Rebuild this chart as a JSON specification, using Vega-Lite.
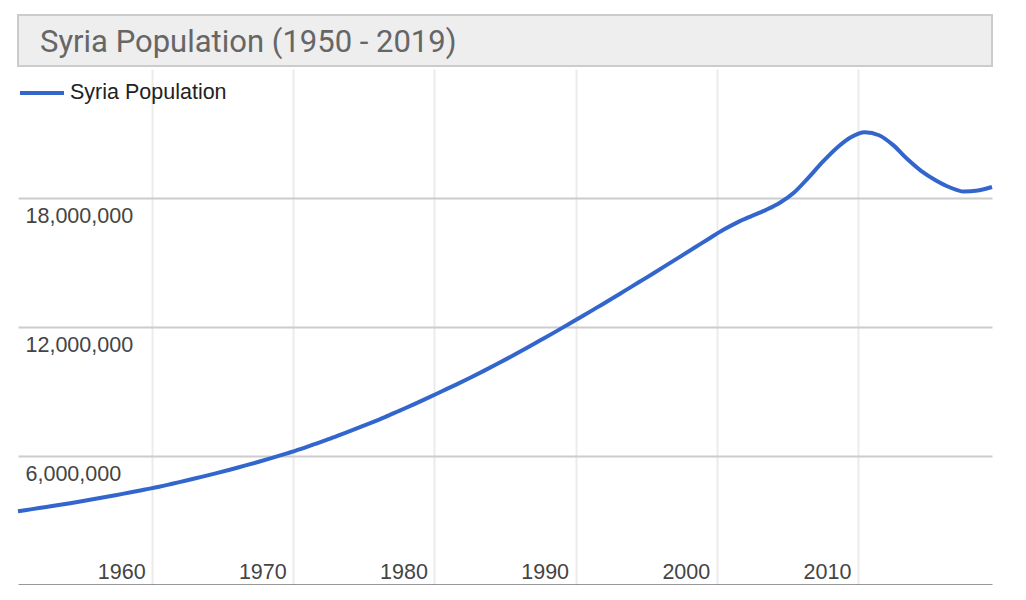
{
  "$schema": "https://vega.github.io/schema/vega-lite/v6.json",
  "padding": {"left": 10, "top": 14, "right": 0, "bottom": 0},
  "spacing": 2,
  "config": {"view": {"stroke": null}, "font": "Liberation Sans"},
  "vconcat": [
    {
      "width": 974,
      "height": 51,
      "view": {"fill": "#eeeeee", "stroke": "#cccccc", "strokeWidth": 2},
      "data": {"values": [{"title": "Syria Population (1950 - 2019)"}]},
      "mark": {"type": "text", "font": "Roboto", "fontSize": 31, "color": "#666666", "align": "left", "baseline": "alphabetic", "dx": 22, "dy": 37},
      "encoding": {
        "text": {"field": "title"},
        "x": {"datum": 0, "scale": {"domain": [0, 1]}, "axis": null},
        "y": {"datum": 1, "scale": {"domain": [0, 1]}, "axis": null}
      }
    },
    {
      "width": 974,
      "height": 516,
      "data": {"values": [
        {"year": 1950, "population": 3430000},
        {"year": 1951, "population": 3530000},
        {"year": 1952, "population": 3630000},
        {"year": 1953, "population": 3730000},
        {"year": 1954, "population": 3840000},
        {"year": 1955, "population": 3950000},
        {"year": 1956, "population": 4070000},
        {"year": 1957, "population": 4190000},
        {"year": 1958, "population": 4310000},
        {"year": 1959, "population": 4440000},
        {"year": 1960, "population": 4570000},
        {"year": 1961, "population": 4720000},
        {"year": 1962, "population": 4870000},
        {"year": 1963, "population": 5030000},
        {"year": 1964, "population": 5190000},
        {"year": 1965, "population": 5360000},
        {"year": 1966, "population": 5540000},
        {"year": 1967, "population": 5720000},
        {"year": 1968, "population": 5910000},
        {"year": 1969, "population": 6110000},
        {"year": 1970, "population": 6320000},
        {"year": 1971, "population": 6550000},
        {"year": 1972, "population": 6780000},
        {"year": 1973, "population": 7030000},
        {"year": 1974, "population": 7280000},
        {"year": 1975, "population": 7540000},
        {"year": 1976, "population": 7810000},
        {"year": 1977, "population": 8100000},
        {"year": 1978, "population": 8390000},
        {"year": 1979, "population": 8690000},
        {"year": 1980, "population": 9000000},
        {"year": 1981, "population": 9310000},
        {"year": 1982, "population": 9630000},
        {"year": 1983, "population": 9960000},
        {"year": 1984, "population": 10300000},
        {"year": 1985, "population": 10650000},
        {"year": 1986, "population": 11010000},
        {"year": 1987, "population": 11380000},
        {"year": 1988, "population": 11750000},
        {"year": 1989, "population": 12130000},
        {"year": 1990, "population": 12510000},
        {"year": 1991, "population": 12900000},
        {"year": 1992, "population": 13290000},
        {"year": 1993, "population": 13690000},
        {"year": 1994, "population": 14090000},
        {"year": 1995, "population": 14490000},
        {"year": 1996, "population": 14900000},
        {"year": 1997, "population": 15310000},
        {"year": 1998, "population": 15720000},
        {"year": 1999, "population": 16130000},
        {"year": 2000, "population": 16530000},
        {"year": 2001, "population": 16880000},
        {"year": 2002, "population": 17170000},
        {"year": 2003, "population": 17450000},
        {"year": 2004, "population": 17790000},
        {"year": 2005, "population": 18270000},
        {"year": 2006, "population": 18950000},
        {"year": 2007, "population": 19680000},
        {"year": 2008, "population": 20330000},
        {"year": 2009, "population": 20830000},
        {"year": 2010, "population": 21060000},
        {"year": 2011, "population": 20920000},
        {"year": 2012, "population": 20460000},
        {"year": 2013, "population": 19810000},
        {"year": 2014, "population": 19250000},
        {"year": 2015, "population": 18830000},
        {"year": 2016, "population": 18500000},
        {"year": 2017, "population": 18300000},
        {"year": 2018, "population": 18350000},
        {"year": 2019, "population": 18510000}
      ]},
      "mark": {"type": "line", "interpolate": "monotone", "strokeWidth": 4},
      "encoding": {
        "x": {
          "field": "year",
          "type": "quantitative",
          "scale": {"domain": [1950, 2019], "nice": false, "zero": false},
          "axis": {
            "values": [1959.5, 1969.5, 1979.5, 1989.5, 1999.5, 2009.5],
            "labelExpr": "format(ceil(datum.value), 'd')",
            "title": null,
            "grid": true,
            "gridColor": "#ebebeb",
            "gridWidth": 2,
            "ticks": false,
            "tickSize": 0,
            "domainColor": "#333333",
            "domainWidth": 2,
            "labelAlign": "right",
            "labelBaseline": "alphabetic",
            "labelPadding": -7,
            "labelOffset": -7,
            "labelFlush": false,
            "labelOverlap": false,
            "labelFont": "Liberation Sans",
            "labelFontSize": 21.5,
            "labelColor": "#444444"
          }
        },
        "y": {
          "field": "population",
          "type": "quantitative",
          "scale": {"domain": [0, 24000000], "nice": false},
          "axis": {
            "values": [6000000, 12000000, 18000000],
            "format": ",d",
            "title": null,
            "domain": false,
            "ticks": false,
            "tickSize": 0,
            "grid": true,
            "gridColor": "#cccccc",
            "gridWidth": 2,
            "labelAlign": "left",
            "labelBaseline": "alphabetic",
            "labelPadding": -7,
            "labelOffset": 24,
            "labelFlush": false,
            "labelOverlap": false,
            "labelFont": "Liberation Sans",
            "labelFontSize": 21.5,
            "labelColor": "#444444"
          }
        },
        "color": {
          "datum": "Syria Population",
          "scale": {"range": ["#3366cc"]},
          "legend": {
            "orient": "none",
            "legendX": 0,
            "legendY": 54,
            "title": null,
            "padding": 0,
            "symbolType": "stroke",
            "symbolSize": 1936,
            "symbolStrokeWidth": 4,
            "labelOffset": 4,
            "labelFont": "Liberation Sans",
            "labelFontSize": 21.5,
            "labelColor": "#222222"
          }
        }
      }
    }
  ]
}
